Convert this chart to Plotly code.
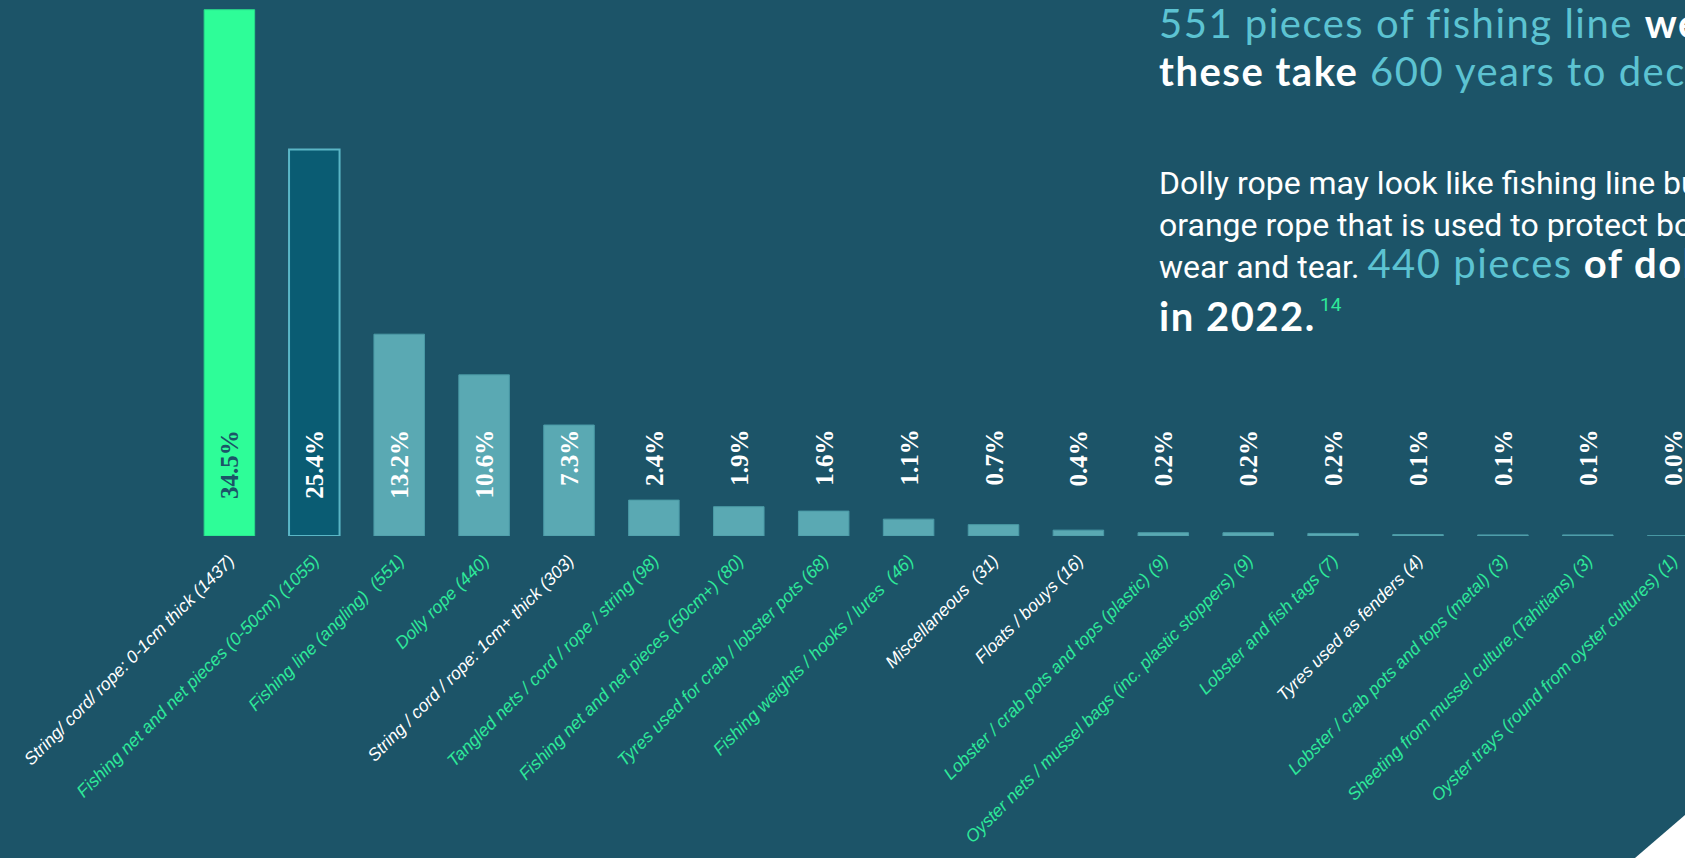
import plotly.graph_objects as go

categories = [
    "String/ cord/ rope: 0-1cm thick (1437)",
    "Fishing net and net pieces (0-50cm) (1055)",
    "Fishing line (angling)\u00a0 (551)",
    "Dolly rope (440)",
    "String / cord / rope: 1cm+ thick (303)",
    "Tangled nets / cord / rope / string (98)",
    "Fishing net and net pieces (50cm+) (80)",
    "Tyres used for crab / lobster pots (68)",
    "Fishing weights / hooks / lures\u00a0 (46)",
    "Miscellaneous\u00a0 (31)",
    "Floats / bouys (16)",
    "Lobster / crab pots and tops (plastic) (9)",
    "Oyster nets / mussel bags (inc. plastic stoppers) (9)",
    "Lobster and fish tags (7)",
    "Tyres used as fenders (4)",
    "Lobster / crab pots and tops (metal) (3)",
    "Sheeting from mussel culture.(Tahitians) (3)",
    "Oyster trays (round from oyster cultures) (1)",
]
counts = [1437, 1055, 551, 440, 303, 98, 80, 68, 46, 31, 16, 9, 9, 7, 4, 3, 3, 1]
pct_labels = ["34.5%", "25.4%", "13.2%", "10.6%", "7.3%", "2.4%", "1.9%", "1.6%", "1.1%",
              "0.7%", "0.4%", "0.2%", "0.2%", "0.2%", "0.1%", "0.1%", "0.1%", "0.0%"]
fishing_related = [False, True, True, True, False, True, True, True, True,
                   False, False, True, True, True, False, True, True, True]

BG = "#1c5468"
GREEN = "#2efd98"
LABEL_GREEN = "#2ee99a"
TEAL = "#5aa9b3"

n = len(categories)
xs = list(range(n))

fill = [GREEN, "#0a5c73"] + [TEAL] * (n - 2)
edge = ["#29d98a", "#5ab6c6"] + ["#4a9aa6"] * (n - 2)
edge_w = [1, 2] + [1] * (n - 2)

ticktext = [
    f'<span style="color:{LABEL_GREEN if f else "#ffffff"}">{c}</span>'
    for c, f in zip(categories, fishing_related)
]

fig = go.Figure(go.Bar(
    x=xs, y=counts, width=0.595,
    marker=dict(color=fill, line=dict(color=edge, width=edge_w)),
    hoverinfo="skip",
))

for i, p in enumerate(pct_labels):
    fig.add_annotation(
        x=i, xref="x", y=1 - 428 / 536, yref="paper", yanchor="top", xanchor="center",
        text=f"<b>{p}</b>", textangle=-90, showarrow=False,
        font=dict(family="Liberation Serif", size=25, color=BG if i == 0 else "#ffffff"),
    )

TX = 1157 / 1685
HEAD = "Lato"
TEALT = "#5cc3d2"
LS = "letter-spacing:1.5px"


def py(px):
    return 1 - px / 536


fig.add_annotation(
    x=TX, xref="paper", y=py(49), yref="paper", xanchor="left", yanchor="bottom",
    showarrow=False, align="left",
    text=(f'<span style="color:{TEALT};{LS}">551 pieces of fishing line</span>'
          f'<span style="{LS}"> <b>were found,</b></span>'),
    font=dict(family=HEAD, size=40, color="#ffffff"),
)
fig.add_annotation(
    x=TX, xref="paper", y=py(97), yref="paper", xanchor="left", yanchor="bottom",
    showarrow=False, align="left",
    text=(f'<span style="{LS}"><b>these take</b> </span>'
          f'<span style="color:{TEALT};{LS}">600 years to decompose.</span>'),
    font=dict(family=HEAD, size=40, color="#ffffff"),
)
para_font = dict(family="Roboto", size=32, color="#ffffff")
fig.add_annotation(
    x=TX, xref="paper", y=py(204), yref="paper", xanchor="left", yanchor="bottom",
    showarrow=False, align="left",
    text="Dolly rope may look like fishing line but is an",
    font=para_font,
)
fig.add_annotation(
    x=TX, xref="paper", y=py(246), yref="paper", xanchor="left", yanchor="bottom",
    showarrow=False, align="left",
    text="orange rope that is used to protect boats from",
    font=para_font,
)
fig.add_annotation(
    x=TX, xref="paper", y=py(289), yref="paper", xanchor="left", yanchor="bottom",
    showarrow=False, align="left",
    text=(f'wear and tear. <span style="font-family:{HEAD};font-size:40px;color:{TEALT};{LS}">440 pieces</span>'
          f'<span style="font-family:{HEAD};font-size:40px;{LS}"><b> of dolly rope were found</b></span>'),
    font=para_font,
)
fig.add_annotation(
    x=TX, xref="paper", y=py(342), yref="paper", xanchor="left", yanchor="bottom",
    showarrow=False, align="left",
    text=f'<span style="{LS}"><b>in 2022.</b></span>',
    font=dict(family=HEAD, size=40, color="#ffffff"),
)
fig.add_annotation(
    x=1318 / 1685, xref="paper", y=py(291), yref="paper", xanchor="left", yanchor="top",
    showarrow=False, align="left", text="14",
    font=dict(family="Roboto", size=19, color=LABEL_GREEN),
)

fig.add_shape(
    type="path", xref="paper", yref="paper",
    path=f"M 1 {py(815)} L {1635/1685} {py(858)} L 1 {py(858)} Z",
    fillcolor="#ffffff", line=dict(width=0), layer="above",
)

fig.update_layout(
    width=1685, height=858,
    margin=dict(l=0, r=0, t=0, b=322, pad=0),
    paper_bgcolor=BG, plot_bgcolor=BG,
    showlegend=False,
    bargap=0.4,
    xaxis=dict(
        range=[-229.4 / 84.9, (1685 - 229.4) / 84.9],
        tickmode="array", tickvals=xs, ticktext=ticktext,
        tickangle=-45, showgrid=False, zeroline=False, showline=False, ticks="",
        tickfont=dict(family="Liberation Sans", size=17.5, style="italic", color="#ffffff"),
        ticklabelstandoff=10,
        automargin=False, fixedrange=True,
    ),
    yaxis=dict(
        range=[0, 1437 * 536 / 526.3], visible=False, showgrid=False, zeroline=False,
        fixedrange=True,
    ),
)

fig.write_html("out.html", config={"displayModeBar": False})
